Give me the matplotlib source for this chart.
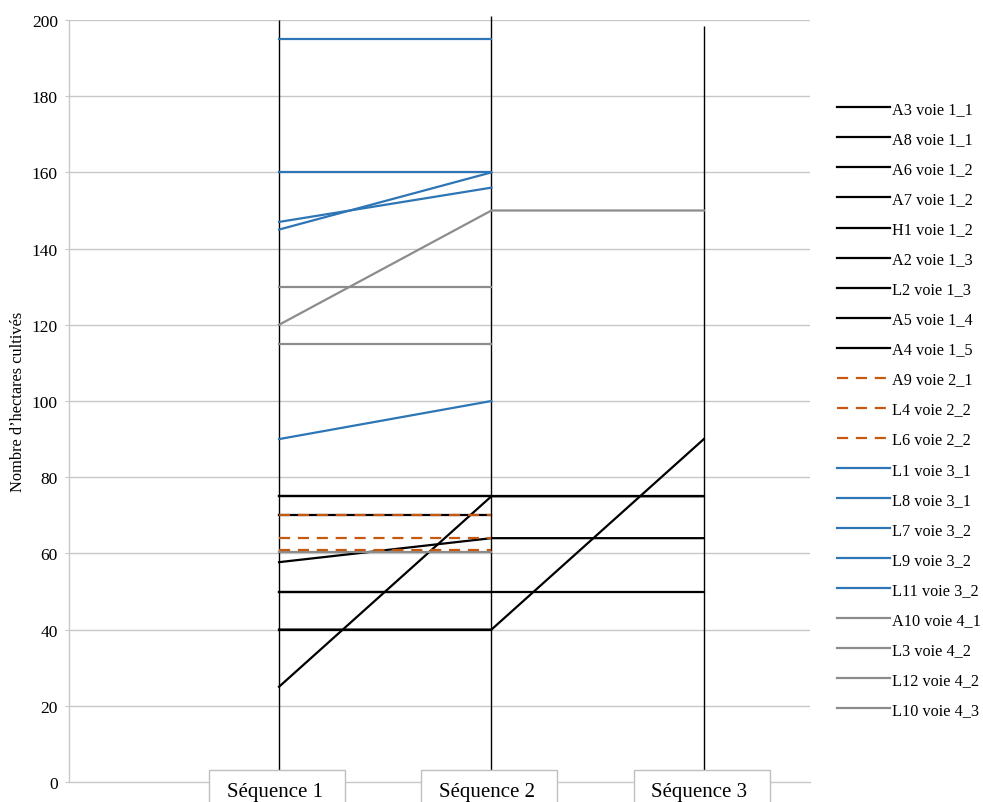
import numpy as np
import matplotlib
matplotlib.use('Agg')
import matplotlib.pyplot as plt
from matplotlib.patches import Rectangle
from matplotlib.transforms import blended_transform_factory

plt.rcParams['font.family'] = ['Liberation Serif', 'DejaVu Serif']

# categories and series
sequences = ['Séquence 1', 'Séquence 2', 'Séquence 3']
x = [1, 2, 3]
nan = np.nan

black_names = ['A3 voie 1_1', 'A8 voie 1_1', 'A6 voie 1_2', 'A7 voie 1_2', 'H1 voie 1_2',
               'A2 voie 1_3', 'L2 voie 1_3', 'A5 voie 1_4', 'A4 voie 1_5']
black_values = [[25, 75, 75], [75, 75, 75], [40, 40, 90], [50, 50, 50], [57.7, 64, 64],
                [70, 70, nan], [50, 50, nan], [40, 40, nan], [75, 75, nan]]

orange_names = ['A9 voie 2_1', 'L4 voie 2_2', 'L6 voie 2_2']
orange_values = [[70, 70, nan], [64, 64, nan], [60.8, 60.8, nan]]

blue_names = ['L1 voie 3_1', 'L8 voie 3_1', 'L7 voie 3_2', 'L9 voie 3_2', 'L11 voie 3_2']
blue_values = [[195, 195, nan], [160, 160, nan], [147, 156, nan], [145, 160, nan], [90, 100, nan]]

gray_names = ['A10 voie 4_1', 'L3 voie 4_2', 'L12 voie 4_2', 'L10 voie 4_3']
gray_values = [[120, 150, 150], [130, 130, nan], [115, 115, nan], [60.4, 60.4, nan]]

# tops of the vertical lines at each sequence
vline_bottom = [2.8, 2.8, 2.8]
vline_top = [200, 201, 198.5]

fig = plt.figure(figsize=(9.83, 8.03), dpi=100)
ax = fig.add_axes([69 / 983, 20 / 803, 741 / 983, 762 / 803])

for v in range(20, 201, 20):
    ax.axhline(v, color='#c8c8c8', lw=1, zorder=0)

ax.vlines(x, vline_bottom, vline_top, color='black', lw=1, zorder=1, clip_on=False)

for name, vals in zip(black_names, black_values):
    ax.plot(x, vals, color='black', lw=1.6, label=name, zorder=2)
for name, vals in zip(orange_names, orange_values):
    ax.plot(x, vals, color='#c65911', lw=1.6, dashes=(5, 3.5), label=name, zorder=4)
for name, vals in zip(blue_names, blue_values):
    ax.plot(x, vals, color='#2e75b6', lw=1.6, label=name, zorder=3)
for name, vals in zip(gray_names, gray_values):
    ax.plot(x, vals, color='#8c8c8c', lw=1.6, label=name, zorder=3)

ax.set_xlim(0.011, 3.5)
ax.set_ylim(0, 200)
ax.set_yticks(range(0, 201, 20))
ax.tick_params(axis='y', length=3, color='#c8c8c8', labelsize=12.5, pad=5)
ax.set_xticks([])
for s in ['right', 'top']:
    ax.spines[s].set_visible(False)
for s in ['left', 'bottom']:
    ax.spines[s].set_color('#c8c8c8')
    ax.spines[s].set_linewidth(1)
ax.set_ylabel('Nombre d\u2019hectares cultivés', fontsize=11.8, labelpad=4)

# category boxes under the axis
trans = blended_transform_factory(ax.transData, ax.transAxes)
for xi, lab in zip(x, sequences):
    ax.add_patch(Rectangle((xi - 0.33, -0.06), 0.64, 0.0757, transform=trans,
                           facecolor='white', edgecolor='#bfbfbf', lw=1, clip_on=False, zorder=5))
    ax.text(xi - 0.02, -0.013, lab, transform=trans, ha='center', va='center', fontsize=15, zorder=6)

fig.legend(loc='upper left', bbox_to_anchor=(837 / 983, 1 - 102 / 803), frameon=False,
           fontsize=11.7, handlelength=3.25, handletextpad=0.15, labelspacing=0.865,
           borderpad=0, borderaxespad=0)

fig.savefig('out.png', dpi=100)
